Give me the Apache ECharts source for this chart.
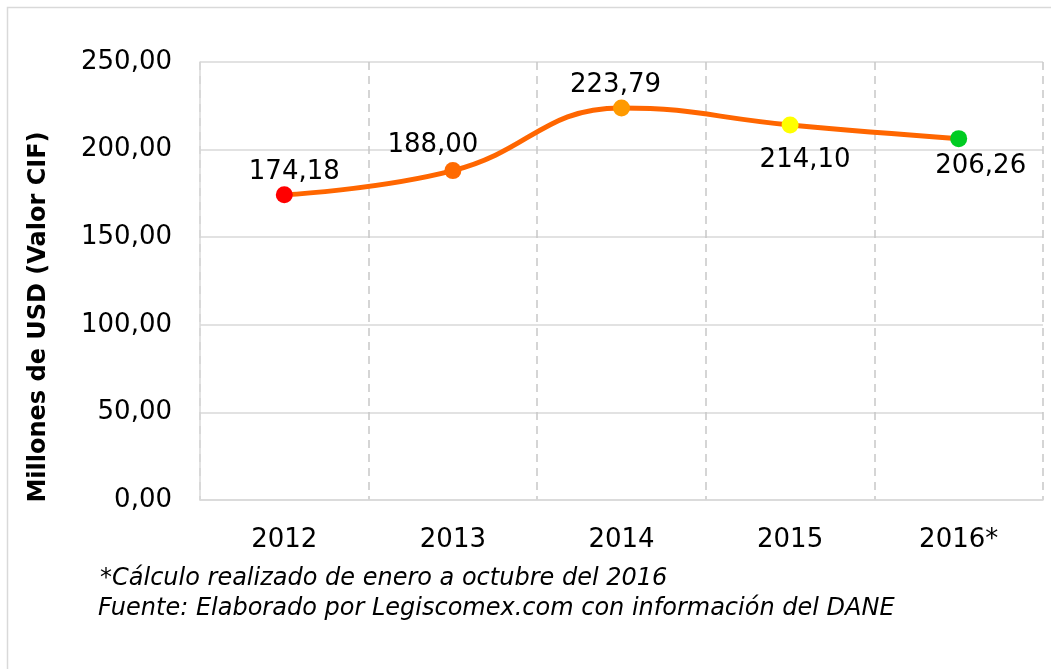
<!DOCTYPE html>
<html>
<head>
<meta charset="utf-8">
<script src="https://cdn.jsdelivr.net/npm/echarts@6/dist/echarts.min.js"></script>
<style>html,body{margin:0;padding:0;background:#fff}#c{width:1051px;height:669px}</style>
</head>
<body>
<div id="c"></div>
<script>
const categories = ['2012', '2013', '2014', '2015', '2016*'];
const values = [174.18, 188.00, 223.79, 214.10, 206.26];
const markerColors = ['#FF0000', '#FF6A00', '#FF9A00', '#FFFF00', '#00CC22'];
const labelPositions = ['top', 'top', 'top', 'bottom', 'bottom'];
const yTicks = { min: 0, max: 250, interval: 50 };
const yAxisName = 'Millones de USD (Valor CIF)';
const footnotes = ['*Cálculo realizado de enero a octubre del 2016', 'Fuente: Elaborado por Legiscomex.com con información del DANE'];

const fmt = v => v.toFixed(2).replace('.', ',');
const chart = echarts.init(document.getElementById('c'), null, { renderer: 'canvas' });
const font = 'DejaVu Sans, Verdana, sans-serif';
// small label nudges (style only)
const labelNudge = [[10, 0], [-20, -3], [-6, 0], [15, 4], [22, -4]];
chart.setOption({
  backgroundColor: '#fff',
  animation: false,
  grid: { left: 200, right: 8, top: 62, bottom: 169 },
  graphic: [
    { type: 'rect', shape: { x: 7.5, y: 7.5, width: 1200, height: 800 }, style: { fill: 'none', stroke: '#d9d9d9', lineWidth: 1.5 } },
    { type: 'text', x: 39, y: 317, rotation: Math.PI / 2,
      style: { text: yAxisName, font: 'bold 24px ' + font, fill: '#000', align: 'center', verticalAlign: 'middle' } },
    { type: 'text', left: 100, top: 567, style: { text: footnotes[0], font: 'italic 24px ' + font, fill: '#000' } },
    { type: 'text', left: 98, top: 597, style: { text: footnotes[1], font: 'italic 24px ' + font, fill: '#000' } }
  ],
  xAxis: {
    type: 'category',
    data: categories,
    boundaryGap: true,
    axisLine: { show: true, lineStyle: { color: '#d9d9d9', width: 1.5 } },
    axisTick: { show: false },
    axisLabel: { color: '#000', fontSize: 26, fontFamily: font, margin: 27 },
    splitLine: { show: true, lineStyle: { color: '#c8c8c8', type: [8, 6], width: 1.5 } }
  },
  yAxis: {
    type: 'value',
    min: yTicks.min, max: yTicks.max, interval: yTicks.interval,
    axisLine: { show: true, lineStyle: { color: '#d9d9d9', width: 1.5 } },
    axisTick: { show: false },
    axisLabel: { color: '#000', fontSize: 26, fontFamily: font, margin: 28, formatter: v => fmt(v) },
    splitLine: { show: true, lineStyle: { color: '#d9d9d9', width: 1.5 } }
  },
  series: [{
    type: 'line',
    smooth: 0.45,
    data: values.map((v, i) => ({
      value: v,
      itemStyle: { color: markerColors[i] },
      label: { position: labelPositions[i], distance: labelPositions[i] === 'top' ? 1 : 10, offset: labelNudge[i] }
    })),
    lineStyle: { color: '#FF6600', width: 5 },
    symbol: 'circle',
    symbolSize: 17,
    label: {
      show: true,
      color: '#000',
      fontSize: 26,
      fontFamily: font,
      formatter: p => fmt(p.value)
    }
  }]
});
</script>
</body>
</html>
